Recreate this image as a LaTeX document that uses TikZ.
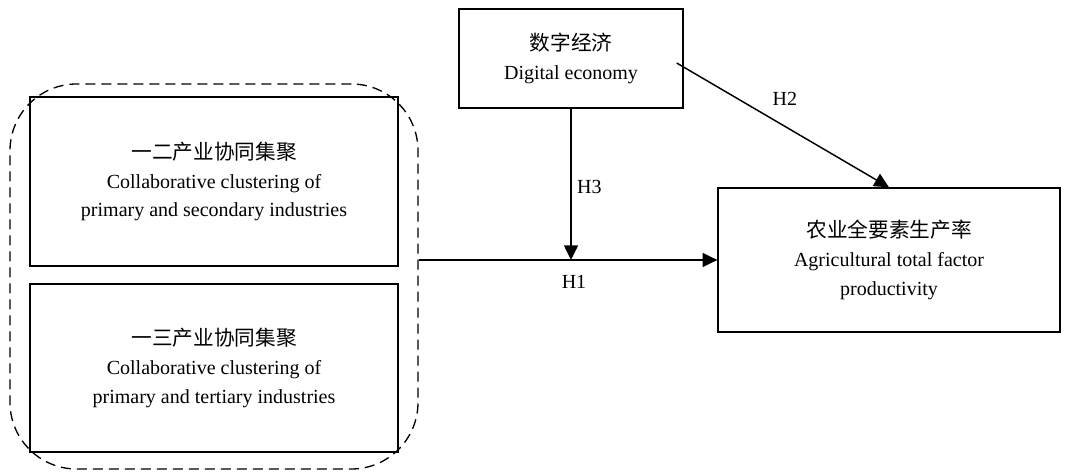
\documentclass[tikz,border=0pt]{standalone}
\usepackage{fontspec}
\setmainfont{Liberation Serif}
\newfontfamily\cjk{Noto Sans CJK SC}
\usetikzlibrary{arrows.meta}
\newcommand{\zh}[1]{{\cjk\fontsize{15.5}{15.5}\selectfont #1}}
\tikzset{
	caja/.style={draw, line width=1pt, inner sep=0pt, align=center,
		font=\fontsize{15}{21.5}\selectfont}, % Cajas de las variables
	grupo/.style={draw, line width=1pt, dash pattern=on 7.5pt off 4.5pt,
		rounded corners=50pt}, % Marco punteado de las aglomeraciones
	flecha/.style={line width=1.1pt, -{Triangle[length=11pt,width=10.5pt]}}, % Arcos dirigidos
	etiq/.style={inner sep=0pt, font=\fontsize{15}{15}\selectfont} % Hipotesis
}

\begin{document}
\begin{tikzpicture}[x=0.75pt, y=-0.75pt]
	\useasboundingbox (0,0) rectangle (1071,473);
	\node[caja, minimum width=168pt, minimum height=74.25pt] (de) at (571,58.5)
		{\zh{数字经济}\\Digital economy};
	\node[grupo, minimum width=306pt, minimum height=288.75pt] (grp) at (214,276.5) {};
	\node[caja, minimum width=276pt, minimum height=126.75pt] (ind1) at (214,181.5)
		{\zh{一二产业协同集聚}\\Collaborative clustering of\\primary and secondary industries};
	\node[caja, minimum width=276pt, minimum height=126pt] (ind2) at (214,368)
		{\zh{一三产业协同集聚}\\Collaborative clustering of\\primary and tertiary industries};
	\node[caja, minimum width=256.5pt, minimum height=108pt] (tfp) at (889,260)
		{\zh{农业全要素生产率}\\Agricultural total factor\\productivity};
	\coordinate (m) at (de.south |- tfp.west);
	\draw[flecha] (grp.east |- tfp.west) -- node[etiq, pos=.52, below=11pt] {H1} (tfp.west);
	\draw[flecha] (de.south) -- node[etiq, pos=.52, right=4pt] {H3} (m);
	\draw[flecha] ([shift={(-7,4.5)}]de.east) -- node[etiq, pos=.51, above=15pt] {H2} (tfp.north);
\end{tikzpicture}
\end{document}
